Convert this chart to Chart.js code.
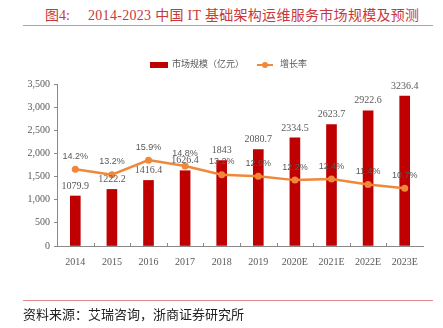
<!DOCTYPE html>
<html>
<head>
<meta charset="utf-8">
<script src="https://cdn.jsdelivr.net/npm/chart.js@4.4.0/dist/chart.umd.min.js"></script>
<style>
  body { margin: 0; background: #fff; }
  #wrap { position: absolute; left: 0; top: 0; width: 443px; height: 328px; }
  .title { position: absolute; top: 4px; font: 14px "Liberation Serif", "Noto Sans CJK SC"; color: #C8383A; white-space: nowrap; }
  .rule { position: absolute; left: 23px; width: 410px; height: 1px; background: #E58A8A; }
  .src { position: absolute; left: 23px; top: 304px; font: 13px "Liberation Serif", "Noto Sans CJK SC"; color: #222; white-space: nowrap; }
  .legend { position: absolute; top: 57px; font: 9px "Noto Sans CJK SC"; color: #595959; white-space: nowrap; }
</style>
</head>
<body>
<div class="title" style="left:45px">图4:</div>
<div class="title" style="left:88px;letter-spacing:0.3px">2014-2023 中国 IT 基础架构运维服务市场规模及预测</div>
<div class="rule" style="top:25px"></div>
<div id="wrap"><canvas id="chart"></canvas></div>
<div class="legend" style="left:150px">
  <span style="display:inline-block;width:18px;height:6px;background:#C00000;vertical-align:middle;margin-right:4px"></span>市场规模（亿元）
</div>
<div class="legend" style="left:257px">
  <span style="display:inline-block;position:relative;width:16px;height:8px;vertical-align:middle;margin-right:7px">
    <span style="position:absolute;left:0;top:3px;width:16px;height:2px;background:#F0883A"></span>
    <span style="position:absolute;left:5px;top:1px;width:6px;height:6px;border-radius:3px;background:#F0883A"></span>
  </span>增长率
</div>
<div class="rule" style="top:300px"></div>
<div class="src">资料来源：艾瑞咨询，浙商证券研究所</div>
<script>
var years = ["2014", "2015", "2016", "2017", "2018", "2019", "2020E", "2021E", "2022E", "2023E"];
var marketSize = [1079.9, 1222.2, 1416.4, 1626.4, 1843, 2080.7, 2334.5, 2623.7, 2922.6, 3236.4];
var growthRate = [14.2, 13.2, 15.9, 14.8, 13.2, 12.9, 12.2, 12.4, 11.4, 10.7];

var labelPlugin = {
  id: 'labels',
  afterDatasetsDraw: function(chart) {
    var ctx = chart.ctx;
    ctx.save();
    ctx.fillStyle = '#595959';
    ctx.textAlign = 'center';
    ctx.textBaseline = 'middle';
    ctx.font = '10px "Liberation Serif"';
    chart.getDatasetMeta(1).data.forEach(function(bar, i) {
      ctx.fillText(marketSize[i].toString(), bar.x, bar.y - 10);
    });
    ctx.font = '9px "Liberation Sans"';
    chart.getDatasetMeta(0).data.forEach(function(pt, i) {
      ctx.fillText(growthRate[i].toFixed(1) + '%', pt.x, pt.y - 13);
    });
    // small inward ticks on the x axis between categories
    var xs = chart.scales.x;
    var bottom = chart.chartArea.bottom;
    ctx.strokeStyle = '#898989';
    ctx.lineWidth = 1;
    for (var i = 1; i < years.length; i++) {
      var x = Math.round((xs.getPixelForValue(i - 1) + xs.getPixelForValue(i)) / 2) + 0.5;
      ctx.beginPath();
      ctx.moveTo(x, bottom);
      ctx.lineTo(x, bottom - 3);
      ctx.stroke();
    }
    ctx.restore();
  }
};

var ctx = document.getElementById("chart");

var marketChart = new Chart(ctx, {
  type: 'bar',
  data: {
    labels: years,
    datasets: [
      {
        type: 'line',
        label: "增长率",
        data: growthRate,
        yAxisID: 'y1',
        borderColor: "#F0883A",
        backgroundColor: "#F0883A",
        borderWidth: 2.5,
        pointRadius: 3.5,
        pointBackgroundColor: "#F0883A",
        pointBorderWidth: 0,
        tension: 0,
        order: 0
      },
      {
        label: "市场规模（亿元）",
        data: marketSize,
        yAxisID: 'y',
        backgroundColor: "#C00000",
        barThickness: 10,
        order: 1
      }
    ]
  },
  options: {
    responsive: true,
    maintainAspectRatio: false,
    animation: false,
    layout: { padding: { left: 0, right: 20, top: 84, bottom: 62 } },
    plugins: { legend: { display: false }, tooltip: { enabled: false } },
    scales: {
      x: {
        grid: { display: false },
        border: { display: true, color: '#898989' },
        ticks: { color: '#595959', font: { family: 'Liberation Serif', size: 10 }, padding: 2 },
        afterFit: function(s) { s.height = 20; }
      },
      y: {
        min: 0,
        max: 3500,
        ticks: {
          stepSize: 500,
          color: '#595959',
          font: { family: 'Liberation Serif', size: 10 },
          padding: 4,
          callback: function(v) { return v.toLocaleString('en-US'); }
        },
        grid: { drawOnChartArea: false, tickLength: 3, color: '#898989' },
        border: { color: '#898989' },
        afterFit: function(s) { s.width = 57; }
      },
      y1: {
        display: false,
        min: 0,
        max: 30
      }
    }
  },
  plugins: [labelPlugin]
});
</script>
</body>
</html>
